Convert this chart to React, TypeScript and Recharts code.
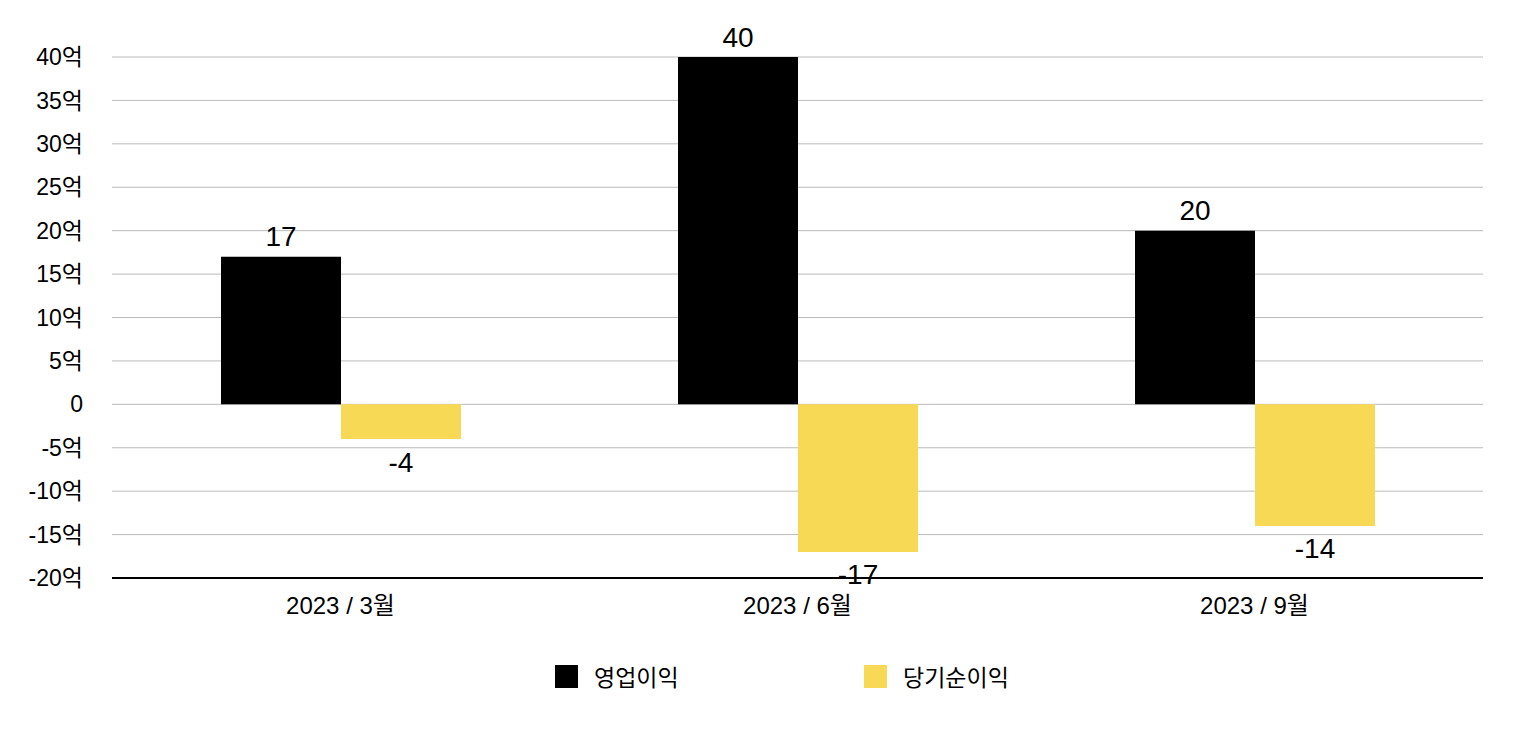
import { BarChart, Bar, XAxis, YAxis, CartesianGrid, LabelList, Legend } from 'recharts';

const CATEGORIES = ['2023 / 3월', '2023 / 6월', '2023 / 9월'];
const OPERATING = [17, 40, 20];
const NET = [-4, -17, -14];
const Y_TICKS = [-20, -15, -10, -5, 0, 5, 10, 15, 20, 25, 30, 35, 40];
const SERIES = [
  { key: 'op', name: '영업이익', color: '#000000' },
  { key: 'net', name: '당기순이익', color: '#F7D955' },
];

const FONT = '"Liberation Sans", Arial, "Noto Sans CJK KR", sans-serif';

const data = CATEGORIES.map((c, i) => ({ name: c, op: OPERATING[i], net: NET[i] }));

function ValueLabel(props: any) {
  const { x, y, width, height, value } = props;
  const top = Math.min(y, y + height);
  const bottom = Math.max(y, y + height);
  const cy = value >= 0 ? top - 20 : bottom + 23;
  return (
    <text x={x + width / 2} y={cy} textAnchor="middle" dominantBaseline="central"
      fontSize={28} fill="#000" fontFamily={FONT}>
      {value}
    </text>
  );
}

function LegendContent() {
  return (
    <div style={{ display: 'flex', fontFamily: FONT, fontSize: 23, color: '#000' }}>
      {SERIES.map(s => (
        <div key={s.key} style={{ display: 'flex', alignItems: 'center', width: 309 }}>
          <span style={{ display: 'inline-block', width: 23, height: 23, background: s.color, marginRight: 16 }} />
          <span>{s.name}</span>
        </div>
      ))}
    </div>
  );
}

export default function App() {
  return (
    <div style={{ fontFamily: FONT }}>
      <BarChart width={1516} height={720} data={data}
        margin={{ top: 49, right: 41, left: 0, bottom: 110 }} barGap={0}>
        <CartesianGrid vertical={false} stroke="#bbbbbb" strokeWidth={1} />
        <XAxis dataKey="name" axisLine={{ stroke: '#000', strokeWidth: 2 }} tickLine={false}
          tickSize={0} tickMargin={19} height={40}
          tick={{ fontSize: 24, fill: '#000', fontFamily: FONT }} />
        <YAxis domain={[-20, 40]} ticks={Y_TICKS} interval={0} width={104}
          axisLine={false} tickLine={false} tickSize={0} tickMargin={29}
          tickFormatter={(v: number) => (v === 0 ? '0' : `${v}억`)}
          tick={{ fontSize: 23, fill: '#000', fontFamily: FONT }} />
        <Legend content={<LegendContent />} verticalAlign="middle"
          wrapperStyle={{ left: 547, top: 651, width: 'auto', bottom: 'auto' }} />
        {SERIES.map(s => (
          <Bar key={s.key} dataKey={s.key} name={s.name} fill={s.color} barSize={120} isAnimationActive={false}>
            <LabelList dataKey={s.key} content={<ValueLabel />} />
          </Bar>
        ))}
      </BarChart>
    </div>
  );
}
